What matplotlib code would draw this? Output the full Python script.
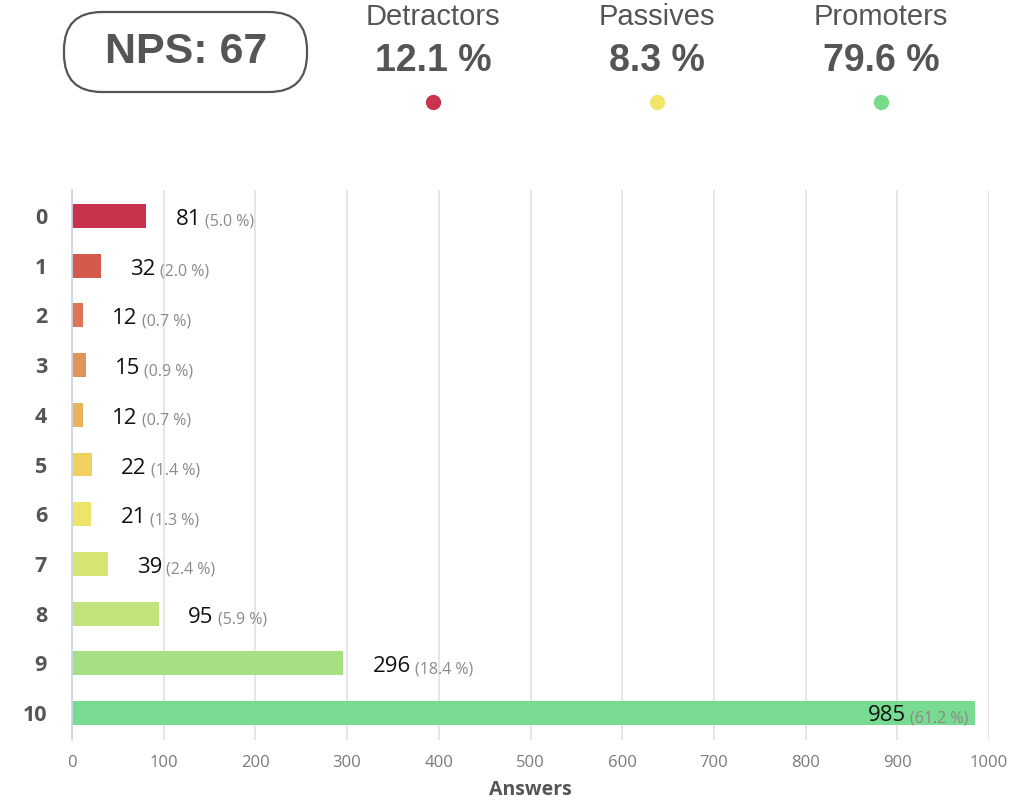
import matplotlib
matplotlib.use("Agg")
import matplotlib.pyplot as plt
from matplotlib.patches import FancyBboxPatch
from matplotlib.transforms import IdentityTransform

# ---- data ----
scores = ["0", "1", "2", "3", "4", "5", "6", "7", "8", "9", "10"]
answers = [81, 32, 12, 15, 12, 22, 21, 39, 95, 296, 985]
percents = ["5.0", "2.0", "0.7", "0.9", "0.7", "1.4", "1.3", "2.4", "5.9", "18.4", "61.2"]
bar_colors = ["#C8344E", "#D55A4E", "#DE7556", "#E29357", "#E8B35C", "#F0D060",
              "#ECE56A", "#D6E572", "#C2E37C", "#A5E084", "#78DB91"]
nps_value = 67
groups = ["Detractors", "Passives", "Promoters"]
group_pcts = ["12.1 %", "8.3 %", "79.6 %"]
group_colors = ["#C8344E", "#F2E468", "#78DB8A"]
x_ticks = [0, 100, 200, 300, 400, 500, 600, 700, 800, 900, 1000]

W, H = 1032, 809
fig = plt.figure(figsize=(W / 100, H / 100), dpi=100)
fig.patch.set_facecolor("white")

# ---- chart axes ----
ax = fig.add_axes([72 / W, (H - 740) / H, (989 - 72) / W, (740 - 190) / H])
ypos = list(range(len(scores)))
ax.barh(ypos, answers, height=0.48, color=bar_colors, edgecolor="none", zorder=3)
ax.set_xlim(0, 1000)
ax.set_ylim(10.54, -0.52)
ax.set_yticks(ypos)
ax.set_yticklabels(scores, fontfamily="Open Sans", fontweight="bold", fontsize=15.5, color="#555555")
ax.set_xticks(x_ticks)
ax.set_xticklabels([str(t) for t in x_ticks], fontfamily="Open Sans", fontsize=12, color="#7a7a7a")
ax.tick_params(axis="both", length=0)
ax.tick_params(axis="y", pad=18)
ax.tick_params(axis="x", pad=11)
ax.grid(axis="x", color="#e2e2e2", linewidth=1.2, zorder=0)
ax.grid(axis="y", visible=False)
for s in ["top", "right", "bottom"]:
    ax.spines[s].set_visible(False)
ax.spines["left"].set_color("#c8d6ee")
ax.spines["left"].set_linewidth(1.2)
ax.spines["left"].set_zorder(4)
ax.set_xlabel("Answers", fontfamily="Open Sans", fontweight="bold", fontsize=14, color="#555555", labelpad=6)

# ---- value labels ----
for i, (v, p) in enumerate(zip(answers, percents)):
    if v > 900:
        pt = ax.annotate(f"({p} %)", xy=(v, i), xytext=(-5, -6.5), textcoords="offset points",
                         ha="right", va="baseline", fontfamily="Open Sans", fontsize=11.5,
                         color="#8a8a8a", zorder=5)
        ax.annotate(f"{v}", xy=(0, 0), xycoords=pt, xytext=(-3, 0), textcoords="offset points",
                    ha="right", va="bottom", fontfamily="Open Sans", fontsize=16,
                    color="#111111", zorder=5)
    else:
        nt = ax.annotate(f"{v}", xy=(v, i), xytext=(21, -6.5), textcoords="offset points",
                         ha="left", va="baseline", fontfamily="Open Sans", fontsize=16,
                         color="#111111", zorder=5)
        ax.annotate(f"({p} %)", xy=(1, 0), xycoords=nt, xytext=(3, 0), textcoords="offset points",
                    ha="left", va="bottom", fontfamily="Open Sans", fontsize=11.5,
                    color="#8a8a8a", zorder=5)

# ---- header ----
box = FancyBboxPatch((64, H - 92), 243, 80, boxstyle="round,pad=0,rounding_size=38",
                     transform=IdentityTransform(), facecolor="white",
                     edgecolor="#555555", linewidth=1.6)
fig.add_artist(box)
fig.text(186 / W, 1 - 52 / H, f"NPS: {nps_value}", ha="center", va="center",
         fontfamily="Liberation Sans", fontweight="bold", fontsize=31, color="#555555")

centers = [433, 657, 881]
for cx, g, pc, col in zip(centers, groups, group_pcts, group_colors):
    fig.text(cx / W, 1 - 17 / H, g, ha="center", va="center",
             fontfamily="Liberation Sans", fontsize=21, color="#555555")
    fig.text(cx / W, 1 - 61 / H, pc, ha="center", va="center",
             fontfamily="Liberation Sans", fontweight="bold", fontsize=27, color="#555555")
    fig.add_artist(plt.Line2D([cx / W], [1 - 102 / H], marker="o", markersize=10,
                              color=col, linestyle="none", transform=fig.transFigure))

fig.savefig("out.png", dpi=100, facecolor="white")
